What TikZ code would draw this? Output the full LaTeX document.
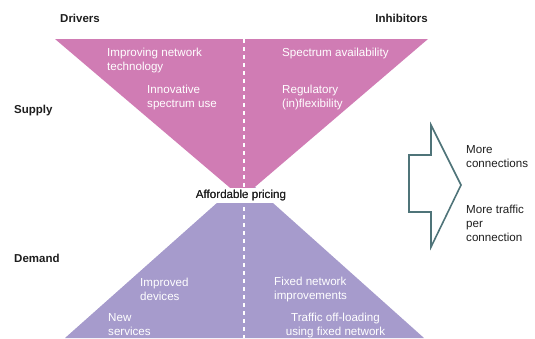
\documentclass[tikz,border=0pt]{standalone}
\usepackage{fontspec}
\setmainfont{Liberation Sans}
\definecolor{supplyc}{HTML}{D07CB4}
\definecolor{demandc}{HTML}{A69BCC}
\definecolor{arrowc}{HTML}{4F7479}
\definecolor{headc}{HTML}{1E1E1E}
\begin{document}
\begin{tikzpicture}[x=1pt,y=-1pt,
  lbl/.style={inner sep=0pt, font=\fontsize{11.6}{14}\selectfont},
  head/.style={lbl, text=headc, font=\fontsize{11.5}{14}\selectfont\bfseries},
  inner/.style={lbl, text=white, align=left, anchor=west},
  dark/.style={lbl, text=headc, align=left, anchor=west}]
\useasboundingbox (0,0) rectangle (535,338);
\clip (0,0) rectangle (535,338);
% triangles
\coordinate (tl) at (55,39);
\coordinate (tr) at (428,39);
\coordinate (ta) at (242,198);
\coordinate (ba) at (245,178);
\coordinate (bl) at (65,338);
\coordinate (br) at (424,338);
\fill[demandc] (ba) -- (br) -- (bl) -- cycle;
\fill[supplyc] (tl) -- (tr) -- (ta) -- cycle;
% centre label on a white band
\node[lbl, text=headc, fill=white, inner xsep=1pt, minimum height=15pt] (afford) at (241,195) {Affordable pricing};
\coordinate (dtop) at (244,39);
\coordinate (dbot) at (244,338);
\draw[white, line width=1.2pt, dash pattern=on 4pt off 4pt] (dtop) -- (dbot);
\node[lbl, text=headc, inner xsep=1pt] at (afford) {Affordable pricing};
% headings
\node[head, anchor=west] (drivers) at (60,18) {Drivers};
\node[head, anchor=east] (inhib) at (428,18) {Inhibitors};
\node[head, anchor=west] (supply) at (14,111) {Supply};
\node[head, anchor=west] (demand) at (14,258) {Demand};
% supply texts
\node[inner] (t1) at (107,60.5) {Improving network\\technology};
\node[inner] (t2) at (147,97) {Innovative\\spectrum use};
\node[inner] (t3) at (282,53.5) {Spectrum availability};
\node[inner] (t4) at (282,97) {Regulatory\\(in)flexibility};
% demand texts
\node[inner] (d1) at (140,289.5) {Improved\\devices};
\node[inner] (d2) at (108,325) {New\\services};
\node[inner] (d3) at (274,289.5) {Fixed network\\improvements};
\node[lbl, text=white, align=center] (d4) at (335.5,325) {Traffic off-loading\\using fixed network};
% arrow
\draw[arrowc, line width=1.6pt, line join=miter]
  (409,155) -- (431,155) -- (431,125) -- (461,185) -- (431,247) -- (431,212) -- (409,212) -- cycle;
\node[dark] (o1) at (466,156.5) {More\\connections};
\node[dark] (o2) at (466,223.5) {More traffic\\per\\connection};
\end{tikzpicture}
\end{document}
